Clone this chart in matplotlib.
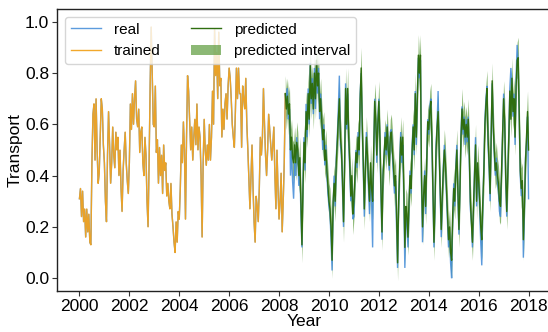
import numpy as np
import matplotlib.pyplot as plt

plt.rcParams['font.family'] = ['Liberation Sans', 'DejaVu Sans']

# semi-monthly samples, 24 per year starting Jan 2000
per_year = 24
start_year = 2000

# observed transport (real), 2000 .. 2018
real = [
    # 2000
    0.31, 0.35, 0.24, 0.34, 0.22, 0.27, 0.16, 0.27, 0.18, 0.25, 0.14, 0.13,
    0.45, 0.64, 0.68, 0.46, 0.70, 0.50, 0.37, 0.41, 0.55, 0.70, 0.66, 0.52,
    # 2001
    0.45, 0.30, 0.22, 0.48, 0.65, 0.52, 0.37, 0.45, 0.59, 0.48, 0.43, 0.57,
    0.50, 0.55, 0.40, 0.50, 0.35, 0.26, 0.42, 0.50, 0.57, 0.45, 0.38, 0.33,
    # 2002
    0.45, 0.68, 0.58, 0.72, 0.60, 0.70, 0.77, 0.62, 0.59, 0.66, 0.49, 0.57,
    0.59, 0.45, 0.40, 0.55, 0.48, 0.30, 0.20, 0.45, 0.75, 0.98, 0.80, 0.60,
    # 2003
    0.59, 0.75, 0.49, 0.54, 0.37, 0.51, 0.40, 0.48, 0.33, 0.52, 0.42, 0.45,
    0.32, 0.37, 0.30, 0.27, 0.37, 0.25, 0.20, 0.14, 0.10, 0.22, 0.14, 0.26,
    # 2004
    0.23, 0.35, 0.52, 0.45, 0.61, 0.50, 0.23, 0.55, 0.79, 0.73, 0.62, 0.50,
    0.59, 0.46, 0.55, 0.62, 0.52, 0.68, 0.50, 0.59, 0.55, 0.40, 0.16, 0.45,
    # 2005
    0.62, 0.50, 0.44, 0.52, 0.46, 0.60, 0.46, 0.55, 0.73, 0.60, 0.97, 0.79,
    0.88, 0.70, 0.96, 0.75, 0.78, 0.55, 0.66, 0.58, 0.68, 0.72, 0.62, 0.75,
    # 2006
    0.82, 0.78, 0.70, 0.60, 0.55, 0.51, 0.65, 0.82, 0.70, 0.82, 0.72, 0.72,
    0.51, 0.75, 0.70, 0.66, 0.78, 0.60, 0.50, 0.38, 0.27, 0.40, 0.52, 0.35,
    # 2007
    0.22, 0.14, 0.32, 0.28, 0.22, 0.35, 0.55, 0.48, 0.55, 0.74, 0.60, 0.48,
    0.40, 0.50, 0.64, 0.58, 0.52, 0.46, 0.52, 0.59, 0.40, 0.27, 0.50, 0.35,
    # 2008
    0.23, 0.30, 0.41, 0.18, 0.30, 0.45, 0.72, 0.70, 0.74, 0.62, 0.66, 0.40,
    0.50, 0.38, 0.31, 0.45, 0.40, 0.55, 0.48, 0.36, 0.45, 0.25, 0.12, 0.38,
    # 2009
    0.55, 0.42, 0.68, 0.55, 0.74, 0.60, 0.84, 0.68, 0.78, 0.64, 0.82, 0.66,
    0.83, 0.72, 0.82, 0.62, 0.72, 0.60, 0.50, 0.60, 0.44, 0.52, 0.40, 0.33,
    # 2010
    0.28, 0.25, 0.15, 0.03, 0.28, 0.40, 0.28, 0.47, 0.55, 0.66, 0.79, 0.52,
    0.48, 0.35, 0.20, 0.45, 0.76, 0.58, 0.72, 0.52, 0.42, 0.30, 0.38, 0.23,
    # 2011
    0.24, 0.42, 0.50, 0.43, 0.57, 0.48, 0.72, 0.80, 0.58, 0.42, 0.24, 0.44,
    0.57, 0.45, 0.35, 0.25, 0.42, 0.30, 0.12, 0.48, 0.70, 0.60, 0.45, 0.62,
    # 2012
    0.70, 0.52, 0.32, 0.15, 0.42, 0.46, 0.57, 0.48, 0.60, 0.48, 0.42, 0.57,
    0.58, 0.48, 0.40, 0.33, 0.38, 0.20, 0.04, 0.28, 0.45, 0.57, 0.45, 0.52,
    # 2013
    0.30, 0.04, 0.26, 0.22, 0.12, 0.28, 0.42, 0.33, 0.52, 0.60, 0.48, 0.73,
    0.52, 0.72, 0.86, 0.78, 0.85, 0.36, 0.14, 0.30, 0.42, 0.25, 0.47, 0.62,
    # 2014
    0.56, 0.67, 0.70, 0.52, 0.32, 0.12, 0.28, 0.52, 0.60, 0.73, 0.48, 0.32,
    0.16, 0.30, 0.44, 0.52, 0.43, 0.32, 0.22, 0.12, 0.18, 0.06, 0.00, 0.22,
    # 2015
    0.37, 0.28, 0.44, 0.52, 0.32, 0.17, 0.36, 0.57, 0.67, 0.56, 0.63, 0.52,
    0.62, 0.53, 0.63, 0.45, 0.27, 0.22, 0.12, 0.26, 0.42, 0.55, 0.28, 0.43,
    # 2016
    0.36, 0.26, 0.14, 0.05, 0.28, 0.44, 0.62, 0.70, 0.75, 0.52, 0.43, 0.30,
    0.57, 0.76, 0.58, 0.48, 0.40, 0.47, 0.38, 0.34, 0.26, 0.24, 0.40, 0.57,
    # 2017
    0.72, 0.60, 0.37, 0.24, 0.42, 0.57, 0.74, 0.82, 0.76, 0.63, 0.72, 0.52,
    0.78, 0.91, 0.84, 0.62, 0.40, 0.32, 0.36, 0.08, 0.25, 0.47, 0.53, 0.63,
    # 2018
    0.31,
]

# training part ends at mid-March 2008 (index 198)
n_train = 199

# model prediction for the test part (2008.25 .. 2018.0)
predicted = [
    # 2008
    0.72, 0.66, 0.71, 0.64, 0.68, 0.50, 0.55, 0.47, 0.45, 0.52, 0.45, 0.53,
    0.50, 0.40, 0.47, 0.30, 0.13, 0.35,
    # 2009
    0.53, 0.45, 0.65, 0.58, 0.72, 0.62, 0.83, 0.70, 0.76, 0.66, 0.80, 0.70,
    0.85, 0.75, 0.80, 0.65, 0.70, 0.62, 0.54, 0.58, 0.46, 0.50, 0.42, 0.36,
    # 2010
    0.30, 0.27, 0.20, 0.07, 0.30, 0.37, 0.30, 0.45, 0.53, 0.62, 0.70, 0.55,
    0.50, 0.38, 0.22, 0.42, 0.74, 0.60, 0.74, 0.55, 0.45, 0.32, 0.40, 0.25,
    # 2011
    0.30, 0.40, 0.49, 0.45, 0.55, 0.50, 0.70, 0.82, 0.60, 0.45, 0.27, 0.42,
    0.55, 0.48, 0.38, 0.30, 0.45, 0.35, 0.30, 0.50, 0.69, 0.62, 0.48, 0.60,
    # 2012
    0.69, 0.55, 0.35, 0.18, 0.40, 0.48, 0.55, 0.50, 0.59, 0.50, 0.44, 0.55,
    0.57, 0.50, 0.44, 0.36, 0.40, 0.25, 0.06, 0.30, 0.42, 0.55, 0.48, 0.55,
    # 2013
    0.35, 0.12, 0.28, 0.25, 0.16, 0.30, 0.40, 0.35, 0.50, 0.59, 0.50, 0.72,
    0.55, 0.70, 0.87, 0.80, 0.87, 0.40, 0.20, 0.32, 0.40, 0.28, 0.45, 0.61,
    # 2014
    0.58, 0.65, 0.69, 0.55, 0.35, 0.14, 0.30, 0.50, 0.59, 0.65, 0.50, 0.35,
    0.19, 0.32, 0.42, 0.50, 0.45, 0.35, 0.25, 0.15, 0.20, 0.10, 0.07, 0.25,
    # 2015
    0.35, 0.30, 0.42, 0.50, 0.35, 0.19, 0.35, 0.55, 0.66, 0.58, 0.62, 0.55,
    0.60, 0.55, 0.62, 0.48, 0.30, 0.22, 0.14, 0.28, 0.40, 0.52, 0.30, 0.45,
    # 2016
    0.38, 0.30, 0.20, 0.15, 0.30, 0.42, 0.60, 0.68, 0.74, 0.55, 0.45, 0.33,
    0.55, 0.77, 0.60, 0.50, 0.42, 0.45, 0.40, 0.37, 0.30, 0.28, 0.42, 0.55,
    # 2017
    0.70, 0.62, 0.40, 0.26, 0.40, 0.55, 0.73, 0.62, 0.78, 0.65, 0.70, 0.55,
    0.75, 0.85, 0.86, 0.65, 0.42, 0.35, 0.38, 0.15, 0.28, 0.45, 0.55, 0.65,
    # 2018
    0.50,
]

# half width of the prediction interval
interval_half = [
    # 2008
    0.07, 0.08, 0.07, 0.08, 0.07, 0.08, 0.07, 0.07, 0.08, 0.07, 0.07, 0.08,
    0.07, 0.07, 0.08, 0.07, 0.07, 0.08,
    # 2009
    0.07, 0.08, 0.08, 0.07, 0.08, 0.07, 0.08, 0.08, 0.07, 0.08, 0.07, 0.08,
    0.08, 0.07, 0.08, 0.07, 0.08, 0.07, 0.08, 0.07, 0.07, 0.08, 0.07, 0.07,
    # 2010
    0.07, 0.08, 0.07, 0.07, 0.08, 0.07, 0.08, 0.07, 0.08, 0.08, 0.07, 0.08,
    0.07, 0.07, 0.08, 0.07, 0.08, 0.07, 0.08, 0.07, 0.08, 0.07, 0.07, 0.08,
    # 2011
    0.07, 0.08, 0.07, 0.08, 0.07, 0.08, 0.07, 0.08, 0.07, 0.07, 0.08, 0.07,
    0.08, 0.07, 0.07, 0.08, 0.07, 0.08, 0.07, 0.08, 0.07, 0.08, 0.07, 0.07,
    # 2012
    0.08, 0.07, 0.08, 0.07, 0.07, 0.08, 0.07, 0.08, 0.07, 0.07, 0.08, 0.07,
    0.07, 0.08, 0.07, 0.08, 0.07, 0.07, 0.07, 0.08, 0.07, 0.08, 0.07, 0.07,
    # 2013
    0.08, 0.07, 0.07, 0.08, 0.07, 0.08, 0.07, 0.07, 0.08, 0.07, 0.08, 0.08,
    0.07, 0.08, 0.08, 0.07, 0.08, 0.07, 0.07, 0.08, 0.07, 0.07, 0.08, 0.07,
    # 2014
    0.07, 0.08, 0.07, 0.08, 0.07, 0.07, 0.08, 0.07, 0.08, 0.07, 0.08, 0.07,
    0.07, 0.08, 0.07, 0.08, 0.07, 0.07, 0.08, 0.07, 0.07, 0.08, 0.07, 0.07,
    # 2015
    0.08, 0.07, 0.07, 0.08, 0.07, 0.07, 0.08, 0.07, 0.08, 0.07, 0.07, 0.08,
    0.07, 0.07, 0.08, 0.07, 0.08, 0.07, 0.07, 0.08, 0.07, 0.08, 0.07, 0.07,
    # 2016
    0.08, 0.07, 0.07, 0.08, 0.07, 0.08, 0.07, 0.08, 0.07, 0.07, 0.08, 0.07,
    0.08, 0.07, 0.08, 0.07, 0.07, 0.08, 0.07, 0.07, 0.08, 0.07, 0.07, 0.08,
    # 2017
    0.07, 0.08, 0.07, 0.07, 0.08, 0.07, 0.08, 0.07, 0.08, 0.07, 0.08, 0.07,
    0.08, 0.07, 0.08, 0.07, 0.07, 0.08, 0.07, 0.08, 0.07, 0.07, 0.08, 0.08,
    # 2018
    0.07,
]

year_ticks = [2000, 2002, 2004, 2006, 2008, 2010, 2012, 2014, 2016, 2018]

real = np.array(real)
predicted = np.array(predicted)
interval_half = np.array(interval_half)

t = start_year + np.arange(len(real)) / per_year
t_train = t[:n_train]
t_test = t[n_train - 1:]
trained = real[:n_train]

fig = plt.figure(figsize=(5.48, 3.32), dpi=100)
ax = fig.add_axes([0.104, 0.1235, 0.9015, 0.8494])

ax.plot(t, real, color='#3f8ad8', lw=1.0, alpha=0.85, label='real',
        solid_joinstyle='miter')
ax.plot(t_train, trained, color='#f2a31f', lw=1.0, alpha=0.95, label='trained',
        solid_joinstyle='round')
ax.fill_between(t_test, predicted - interval_half, predicted + interval_half,
                color='#5b9a3b', alpha=0.7, lw=0, label='predicted interval')
ax.plot(t_test, predicted, color='#2f6e10', lw=1.0, label='predicted')

ax.set_xlim(1999.1, 2018.9)
ax.set_ylim(-0.05, 1.05)
ax.set_xticks(year_ticks)
ax.set_xticklabels([str(y) for y in year_ticks])
ax.set_yticks([0.0, 0.2, 0.4, 0.6, 0.8, 1.0])
ax.tick_params(labelsize=12.5, length=3.5, width=0.8, color='#333333', pad=2)
ax.set_xlabel('Year', fontsize=12.5, labelpad=0.5)
ax.set_ylabel('Transport', fontsize=12.5, labelpad=2)
for s in ax.spines.values():
    s.set_color('#222222')
    s.set_linewidth(1.0)

handles, labels = ax.get_legend_handles_labels()
order = [labels.index(n) for n in ['real', 'trained', 'predicted', 'predicted interval']]
ax.legend([handles[i] for i in order], [labels[i] for i in order],
          loc='upper left', ncol=2, fontsize=11, handlelength=2.0,
          borderaxespad=0.5, columnspacing=2.0)

fig.savefig('out.png', dpi=100)
